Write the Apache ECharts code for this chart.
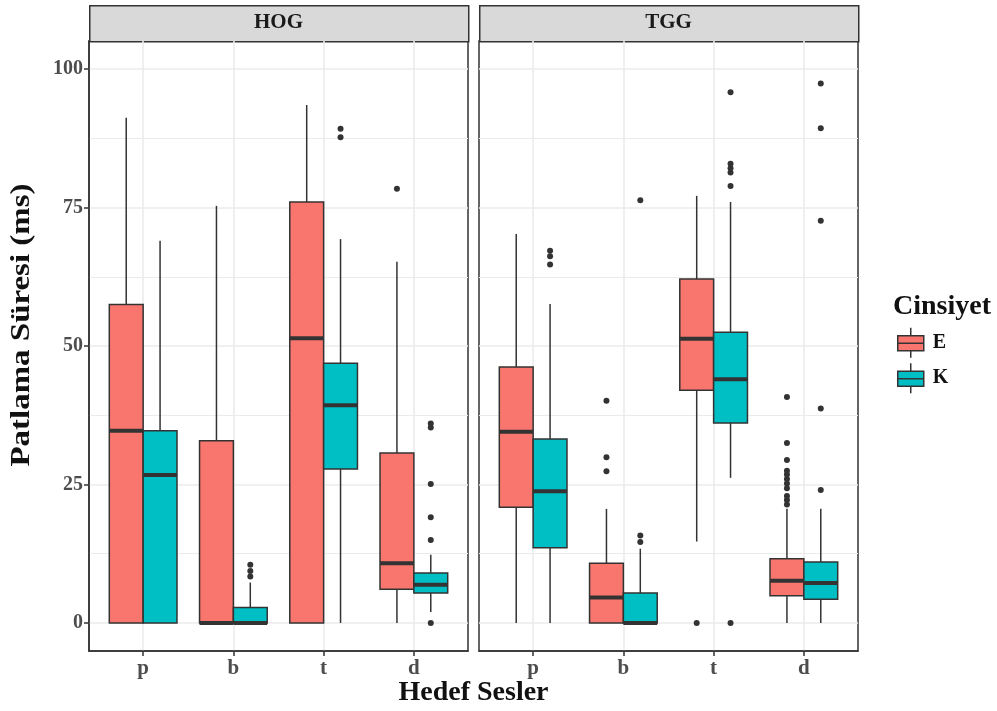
<!DOCTYPE html>
<html><head><meta charset="utf-8">
<script src="https://cdn.jsdelivr.net/npm/echarts@6/dist/echarts.min.js"></script>
<style>html,body{margin:0;padding:0;background:#fff}#c{width:997px;height:711px}</style>
</head><body><div id="c"></div>
<script>
// ---- data ----
const categories = ['p', 'b', 't', 'd'];
const panels = ['HOG', 'TGG'];
const groups = ['E', 'K'];
const yTicks = [0, 25, 50, 75, 100];
const yMinorTicks = [12.5, 37.5, 62.5, 87.5];
// [min, Q1, median, Q3, max] per category (p, b, t, d)
const hogE = [[0, 0, 34.7, 57.5, 91.2], [0, 0, 0, 32.9, 75.3], [0, 0, 51.4, 76.0, 93.5], [0, 6.1, 10.8, 30.7, 65.2]];
const hogK = [[0, 0, 26.7, 34.7, 69.0], [0, 0, 0, 2.8, 7.3], [0, 27.8, 39.3, 46.9, 69.3], [2.0, 5.4, 6.9, 9.0, 12.3]];
const tggE = [[0, 20.9, 34.5, 46.2, 70.2], [0, 0, 4.6, 10.8, 20.6], [14.7, 42.0, 51.3, 62.1, 77.1], [0, 4.9, 7.6, 11.6, 20.6]];
const tggK = [[0, 13.6, 23.8, 33.2, 57.6], [0, 0, 0, 5.4, 13.4], [26.2, 36.1, 44.0, 52.5, 76.0], [0, 4.3, 7.2, 11.0, 20.6]];
// outliers [category, value]
const hogOutE = [['d', 78.4]];
const hogOutK = [['b', 8.4], ['b', 9.4], ['b', 10.5], ['t', 87.7], ['t', 89.2], ['d', 0], ['d', 15.0], ['d', 19.1], ['d', 25.1], ['d', 35.3], ['d', 36.0]];
const tggOutE = [['b', 27.4], ['b', 29.9], ['b', 40.1], ['t', 0],
  ['d', 21.4], ['d', 22.2], ['d', 22.9], ['d', 24.3], ['d', 25.2], ['d', 26.0], ['d', 26.8], ['d', 27.5], ['d', 29.4], ['d', 32.5], ['d', 40.8]];
const tggOutK = [['p', 64.7], ['p', 66.2], ['p', 67.2], ['b', 14.6], ['b', 15.8], ['b', 76.3], ['t', 0], ['t', 78.9], ['t', 81.3], ['t', 82.1], ['t', 82.9], ['t', 95.8],
  ['d', 24.0], ['d', 38.7], ['d', 72.6], ['d', 89.3], ['d', 97.4]];
const yTitle = 'Patlama Süresi (ms)';
const xTitle = 'Hedef Sesler';
const legendTitle = 'Cinsiyet';

// ---- style ----
const FONT = "'Liberation Serif', 'Times New Roman', serif";
const COLORS = { E: '#F8766D', K: '#00BFC4' };
const LINE = '#333333';
const GRIDC = '#EBEBEB';
const panelBoxes = [{ left: 89, width: 379 }, { left: 479, width: 379 }];
const PTOP = 41, PHEIGHT = 610;
const YMIN = -5.06, YMAX = 105.06;

function boxRender(dir) {
  return function (params, api) {
    const x = api.value(0);
    const band = api.size([1, 0])[0];
    const half = band * 0.1875;
    const cx = api.coord([x, 0])[0] + dir * half;
    const y = i => api.coord([x, api.value(i)])[1];
    const yMin = y(1), yQ1 = y(2), yMed = y(3), yQ3 = y(4), yMax = y(5);
    const fill = api.visual('color');
    return {
      type: 'group', children: [
        { type: 'line', shape: { x1: cx, y1: yQ3, x2: cx, y2: yMax }, style: { stroke: LINE, lineWidth: 1.5 } },
        { type: 'line', shape: { x1: cx, y1: yQ1, x2: cx, y2: yMin }, style: { stroke: LINE, lineWidth: 1.5 } },
        { type: 'rect', shape: { x: cx - half, y: yQ3, width: 2 * half, height: yQ1 - yQ3 }, style: { fill: fill, stroke: LINE, lineWidth: 1.5 } },
        { type: 'line', shape: { x1: cx - half, y1: yMed, x2: cx + half, y2: yMed }, style: { stroke: LINE, lineWidth: 4 } }
      ]
    };
  };
}
function pointRender(dir) {
  return function (params, api) {
    const x = api.value(0);
    const band = api.size([1, 0])[0];
    const p = api.coord([x, api.value(1)]);
    return { type: 'circle', shape: { cx: p[0] + dir * band * 0.1875, cy: p[1], r: 3 }, style: { fill: LINE } };
  };
}

const grids = panelBoxes.map(b => ({ left: b.left, top: PTOP, width: b.width, height: PHEIGHT, show: true, borderColor: LINE, borderWidth: 1.5, backgroundColor: '#fff' }));
const xAxes = panelBoxes.map((b, i) => ({
  type: 'value', gridIndex: i, min: 0.4, max: 4.6, position: 'bottom',
  axisLine: { show: true, onZero: false, lineStyle: { color: LINE, width: 1.5 } },
  axisTick: { show: true, length: 5, customValues: [1, 2, 3, 4], lineStyle: { color: LINE, width: 1.5 } },
  axisLabel: { customValues: [1, 2, 3, 4], formatter: v => categories[Math.round(v) - 1], margin: 7, fontFamily: FONT, fontWeight: 'bold', fontSize: 21, color: '#4D4D4D' },
  splitLine: { show: true, lineStyle: { color: GRIDC, width: 1.6 } }
}));
const yAxes = [];
panelBoxes.forEach((b, i) => {
  yAxes.push({
    type: 'value', gridIndex: i, min: YMIN, max: YMAX, position: 'left',
    axisLine: { show: i === 0, onZero: false, lineStyle: { color: LINE, width: 1.5 } },
    axisTick: { show: i === 0, length: 5, customValues: yTicks, lineStyle: { color: LINE, width: 1.5 } },
    axisLabel: { show: i === 0, customValues: yTicks, margin: 6, fontFamily: FONT, fontWeight: 'bold', fontSize: 20, color: '#4D4D4D' },
    splitLine: { show: true, lineStyle: { color: GRIDC, width: 1.6 } }
  });
  yAxes.push({
    type: 'value', gridIndex: i, min: YMIN, max: YMAX, position: 'right',
    axisLine: { show: false, onZero: false }, axisTick: { show: false, customValues: yMinorTicks },
    axisLabel: { show: false, customValues: yMinorTicks },
    splitLine: { show: true, lineStyle: { color: GRIDC, width: 1.2 } }
  });
});

const boxSets = [[hogE, hogK], [tggE, tggK]];
const outSets = [[hogOutE, hogOutK], [tggOutE, tggOutK]];
const series = [];
boxSets.forEach((pair, pi) => {
  pair.forEach((arr, gi) => {
    series.push({
      type: 'custom', name: groups[gi], xAxisIndex: pi, yAxisIndex: pi * 2,
      itemStyle: { color: COLORS[groups[gi]], borderColor: LINE, borderWidth: 1.5 },
      renderItem: boxRender(gi === 0 ? -1 : 1),
      encode: { x: 0, y: [1, 2, 3, 4, 5] },
      data: arr.map((d, ci) => [ci + 1].concat(d)), z: 3
    });
  });
});
outSets.forEach((pair, pi) => {
  pair.forEach((arr, gi) => {
    series.push({
      type: 'custom', name: groups[gi], xAxisIndex: pi, yAxisIndex: pi * 2,
      itemStyle: { color: COLORS[groups[gi]] },
      renderItem: pointRender(gi === 0 ? -1 : 1),
      encode: { x: 0, y: 1 },
      data: arr.map(o => [categories.indexOf(o[0]) + 1, o[1]]), z: 4
    });
  });
});

const iconPath = 'path://M13,0L13,8M0,8L26,8L26,23L0,23ZM0,15.5L26,15.5M13,23L13,30';
const graphics = [];
panelBoxes.forEach((b, i) => {
  graphics.push({ type: 'rect', left: b.left, top: 5, shape: { width: b.width, height: PTOP - 5 }, style: { fill: '#D9D9D9', stroke: LINE, lineWidth: 1.5 } });
  graphics.push({ type: 'text', x: b.left + b.width / 2, y: 23, style: { text: panels[i], font: "bold 21px " + FONT, fill: '#1A1A1A', align: 'center', verticalAlign: 'middle' } });
});
graphics.push({ type: 'text', x: 473.5, y: 693, style: { text: xTitle, font: "bold 28px " + FONT, fill: '#111', align: 'center', verticalAlign: 'middle' } });
graphics.push({ type: 'text', x: 22, y: 325, rotation: Math.PI / 2, scaleX: 1.22, style: { text: yTitle, font: "bold 27px " + FONT, fill: '#111', align: 'center', verticalAlign: 'middle' } });
graphics.push({ type: 'text', x: 893, y: 307, style: { text: legendTitle, font: "bold 28px " + FONT, fill: '#111', align: 'left', verticalAlign: 'middle' } });

const chart = echarts.init(document.getElementById('c'), null, { renderer: 'canvas' });
chart.setOption({
  animation: false,
  backgroundColor: '#fff',
  grid: grids,
  xAxis: xAxes,
  yAxis: yAxes,
  legend: {
    orient: 'vertical', left: 897, top: 327, padding: 0, itemWidth: 26, itemHeight: 30, itemGap: 4,
    data: groups.map(g => ({ name: g, icon: iconPath })),
    itemStyle: { borderColor: LINE, borderWidth: 1.5 },
    textStyle: { fontFamily: FONT, fontWeight: 'bold', fontSize: 20, color: '#111', padding: [0, 0, 0, 4] }
  },
  graphic: graphics,
  series: series
});
</script></body></html>
